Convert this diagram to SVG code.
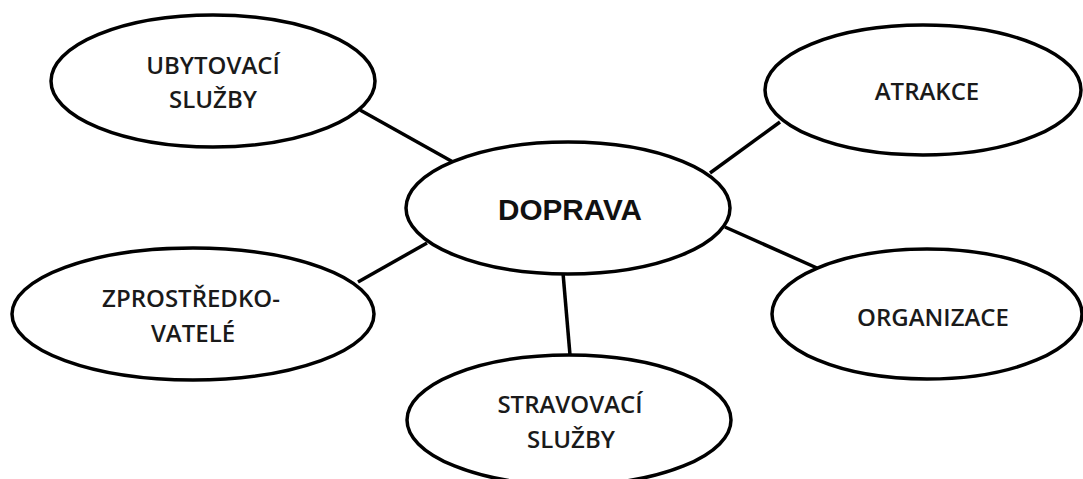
<svg xmlns="http://www.w3.org/2000/svg" width="1083" height="479" viewBox="0 0 1083 479">
<style>
.node{fill:#fff;stroke:#000;stroke-width:3.5}
.lbl{font-family:"Open Sans","Liberation Sans",sans-serif;font-size:24px;font-weight:600;fill:#1a1a1a;text-anchor:middle}
.main{font-family:"Liberation Sans",Arial,sans-serif;font-size:29px;font-weight:bold;fill:#111;text-anchor:middle}
.conn line{stroke:#000;stroke-width:3.5}
</style>
<rect width="1083" height="479" fill="#fff"/>
<g class="conn" id="connectors">
<line x1="360" y1="110" x2="453" y2="162"/>
<line x1="780" y1="122" x2="710" y2="173"/>
<line x1="358" y1="282" x2="427" y2="243"/>
<line x1="725" y1="227" x2="817" y2="268"/>
<line x1="563" y1="273" x2="570" y2="355"/>
</g>
<g id="ubytovaci">
<ellipse class="node" cx="213" cy="81" rx="162" ry="66"/>
<text class="lbl" x="213" y="74">UBYTOVACÍ</text>
<text class="lbl" x="213" y="108">SLUŽBY</text>
</g>
<g id="atrakce">
<ellipse class="node" cx="923" cy="90" rx="158" ry="65"/>
<text class="lbl" x="927" y="100">ATRAKCE</text>
</g>
<g id="doprava">
<ellipse class="node" cx="568" cy="208" rx="162" ry="66"/>
<text class="main" x="570" y="220" textLength="144" lengthAdjust="spacingAndGlyphs">DOPRAVA</text>
</g>
<g id="zprostredkovatele">
<ellipse class="node" cx="193" cy="314" rx="181" ry="66"/>
<text class="lbl" x="191" y="307">ZPROSTŘEDKO-</text>
<text class="lbl" x="193" y="342">VATELÉ</text>
</g>
<g id="organizace">
<ellipse class="node" cx="927" cy="314" rx="155" ry="65"/>
<text class="lbl" x="933" y="326">ORGANIZACE</text>
</g>
<g id="stravovaci">
<ellipse class="node" cx="569" cy="420" rx="162" ry="65"/>
<text class="lbl" x="570" y="413">STRAVOVACÍ</text>
<text class="lbl" x="571" y="448">SLUŽBY</text>
</g>
</svg>
